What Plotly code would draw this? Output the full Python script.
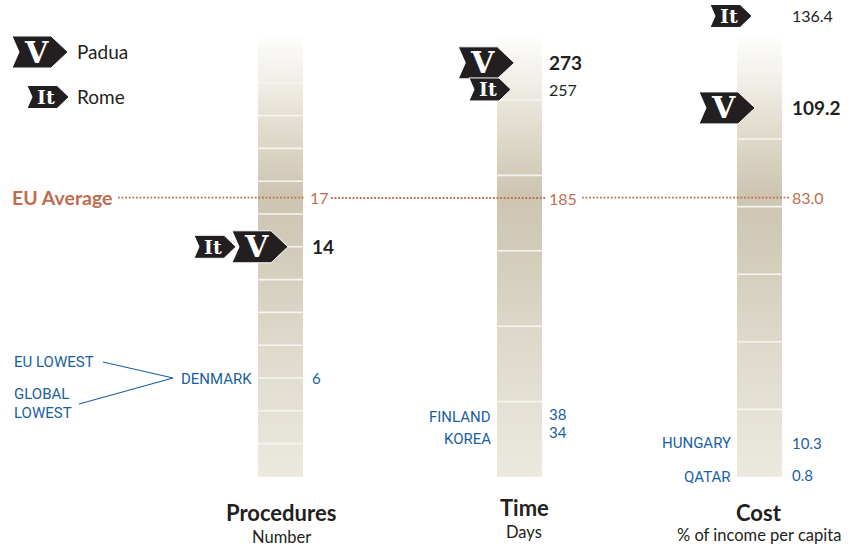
import numpy as np
import plotly.graph_objects as go

# ---- data ----
metrics = ["Procedures", "Time", "Cost"]
units = ["Number", "Days", "% of income per capita"]
padua = [14, 273, 109.2]
rome = [14, 257, 136.4]
eu_average = [17, 185, 83.0]
padua_labels = ["14", "273", "109.2"]
rome_labels = ["", "257", "136.4"]
eu_labels = ["17", "185", "83.0"]
low_countries = [["DENMARK"], ["FINLAND", "KOREA"], ["HUNGARY", "QATAR"]]
low_values = [[6], [38, 34], [10.3, 0.8]]
low_labels = [["6"], ["38", "34"], ["10.3", "0.8"]]
low_value_shift = [[0], [6, -6], [-1, -1]]
low_name_shift = [[-1], [3, -13], [-1, -3]]
tick_values = [list(range(2, 27, 2)), list(range(50, 251, 50)), list(range(20, 121, 20))]

# ---- layout constants (pixels) ----
W, H = 849, 548
BAR_W = 45
centers = [280.5, 519.5, 759.5]
zero_y = [476.4, 477.0, 477.0]
px_per_unit = [16.4, 1.508, 3.38]
eu_nudge_px = [0, 0, 1.2]
BAR_TOP, BAR_BOTTOM = 35, 477
axes_y = ["y", "y2", "y3"]
layout_y = ["yaxis", "yaxis2", "yaxis3"]
DARK = "#231f20"
BLUE = "#1a5fa1"
RUST = "#c26c4f"
SANS = "Lato, 'Open Sans', sans-serif"
CAPS = "Roboto, Lato, sans-serif"
SERIF = "'DejaVu Serif', serif"
grad_pos = [0.0, 0.03, 0.107, 0.18, 0.36, 0.48, 0.70, 1.0]
grad_col = ["#ffffff", "#faf9f6", "#f1eee7", "#e6e1d4", "#cdc5b1", "#d2cbb9", "#ded9cb", "#ece9e0"]


def val(i, py):
    return (zero_y[i] - py) / px_per_unit[i]


fig = go.Figure()

# gradient columns and separators
for i in range(3):
    rows = np.arange(BAR_TOP + 0.5, BAR_BOTTOM, 1.0)
    frac = (rows - BAR_TOP) / (BAR_BOTTOM - BAR_TOP)
    fig.add_trace(go.Heatmap(
        z=[[f] for f in frac], x0=centers[i], dx=BAR_W, y=[val(i, r) for r in rows],
        yaxis=axes_y[i], zmin=0, zmax=1, showscale=False, hoverinfo="skip",
        colorscale=[[p, c] for p, c in zip(grad_pos, grad_col)],
    ))
    xs, ys = [], []
    for t in tick_values[i]:
        xs += [centers[i] - BAR_W / 2, centers[i] + BAR_W / 2, None]
        ys += [t, t, None]
    fig.add_trace(go.Scatter(x=xs, y=ys, yaxis=axes_y[i], mode="lines", hoverinfo="skip",
                             line=dict(color="#f6f4ef", width=1.6), showlegend=False))

# EU average dotted segments
seg_x = [(118, 304), (331, 545), (582, 789)]
for i in range(3):
    y_eu = eu_average[i] - eu_nudge_px[i] / px_per_unit[i]
    fig.add_trace(go.Scatter(x=list(seg_x[i]), y=[y_eu] * 2, yaxis=axes_y[i], mode="lines",
                             hoverinfo="skip", showlegend=False,
                             line=dict(color=RUST, width=1.8, dash="1.8px,1.8px")))

shapes, ann = [], []


def text(x, y, s, yref="paper", size=17, color=DARK, bold=False, anchor="left", family=SANS, yshift=0):
    if yref == "paper":
        y = 1 - y / H
    ann.append(dict(x=x, y=y, xref="x", yref=yref, text=f"<b>{s}</b>" if bold else s, showarrow=False,
                    xanchor=anchor, yanchor="middle", yshift=yshift, align=anchor,
                    borderpad=0, borderwidth=0,
                    font=dict(size=size, color=color, family=family)))


def badge(tip, y, big, yref="paper", yshift=0):
    if yref == "paper":
        y = 1 - y / H
    w, h, head, notch = (56, 16, 17, 7) if big else (42, 11.5, 12, 5)
    s = yshift
    path = (f"M 0 {s} L {-head} {h + s} L {-w} {h + s} L {-w + notch} {s} L {-w} {-h + s} L {-head} {-h + s} Z")
    shapes.append(dict(type="path", path=path, xsizemode="pixel", ysizemode="pixel", xref="x", yref=yref,
                       xanchor=tip, yanchor=y, fillcolor=DARK, line=dict(color="white", width=1), layer="above"))
    cx = tip - (32 if big else 23)
    ann.append(dict(x=cx, y=y, xref="x", yref=yref, text="<b>V</b>" if big else "<b>It</b>", showarrow=False,
                    xanchor="center", yanchor="middle", yshift=yshift, borderpad=0, borderwidth=0,
                    font=dict(size=30 if big else 19, color="white", family=SERIF)))


# legend
badge(68, 52, True)
badge(69, 97, False)
text(77, 51.5, "Padua", size=19)
text(77, 96.5, "Rome", size=19)

# Rome before Padua on Procedures (Padua on top); Padua before Rome on Time
badge(236, rome[0], False, "y")
badge(288, padua[0], True, "y")
badge(514.3, padua[1], True, "y2", yshift=2.5)
badge(511, rome[1], False, "y2")
badge(755, padua[2], True, "y3")
badge(752, rome[2], False, "y3")

value_x = [310, 549, 792]
padua_shift = [0, 3, 0]
for i in range(3):
    yr = axes_y[i]
    text(value_x[i], eu_average[i], eu_labels[i], yr, size=16, color=RUST, yshift=-eu_nudge_px[i])
    text(value_x[i] + (2 if i == 0 else 0), padua[i], padua_labels[i], yr, size=19, bold=True, yshift=padua_shift[i])
    if rome_labels[i]:
        text(value_x[i], rome[i], rome_labels[i], yr, size=16)
    for c, v, l, vs, ns in zip(low_countries[i], low_values[i], low_labels[i], low_value_shift[i], low_name_shift[i]):
        text(value_x[i] + (2 if i == 0 else 0), v, l, yr, size=15, color=BLUE, yshift=vs)
        text(centers[i] - BAR_W / 2 - 6, v, c, yr, size=15, color=BLUE, anchor="right", yshift=ns, family=CAPS)

text(12, 197, "EU Average", size=19.5, color=RUST, bold=True)
text(14, 362, "EU LOWEST", size=15, color=BLUE, family=CAPS)
text(14, 394, "GLOBAL", size=15, color=BLUE, family=CAPS)
text(14, 413, "LOWEST", size=15, color=BLUE, family=CAPS)
for a, b in [((103, 362), (173, 378)), ((79, 404), (173, 378))]:
    shapes.append(dict(type="line", xref="x", yref="paper", x0=a[0], x1=b[0], y0=1 - a[1] / H, y1=1 - b[1] / H,
                       line=dict(color=BLUE, width=1.1), layer="above"))

title_x = [281, 524, 759]
title_y = [512, 507, 512]
unit_y = [537, 532, 535]
for i in range(3):
    text(title_x[i], title_y[i], metrics[i], size=22, bold=True, anchor="center")
    text(title_x[i], unit_y[i], units[i], size=16.5, anchor="center")

layout = dict(
    width=W, height=H, margin=dict(l=0, r=0, t=0, b=0), autosize=False,
    paper_bgcolor="white", plot_bgcolor="white", showlegend=False,
    xaxis=dict(range=[0, W], visible=False, fixedrange=True),
    shapes=shapes, annotations=ann,
)
for i in range(3):
    ax = dict(range=[val(i, H), val(i, 0)], visible=False, fixedrange=True)
    if i:
        ax.update(overlaying="y")
    layout[layout_y[i]] = ax
fig.update_layout(**layout)
fig.write_html("out.html", post_script="document.body.style.margin='0';",
               config=dict(displayModeBar=False))
